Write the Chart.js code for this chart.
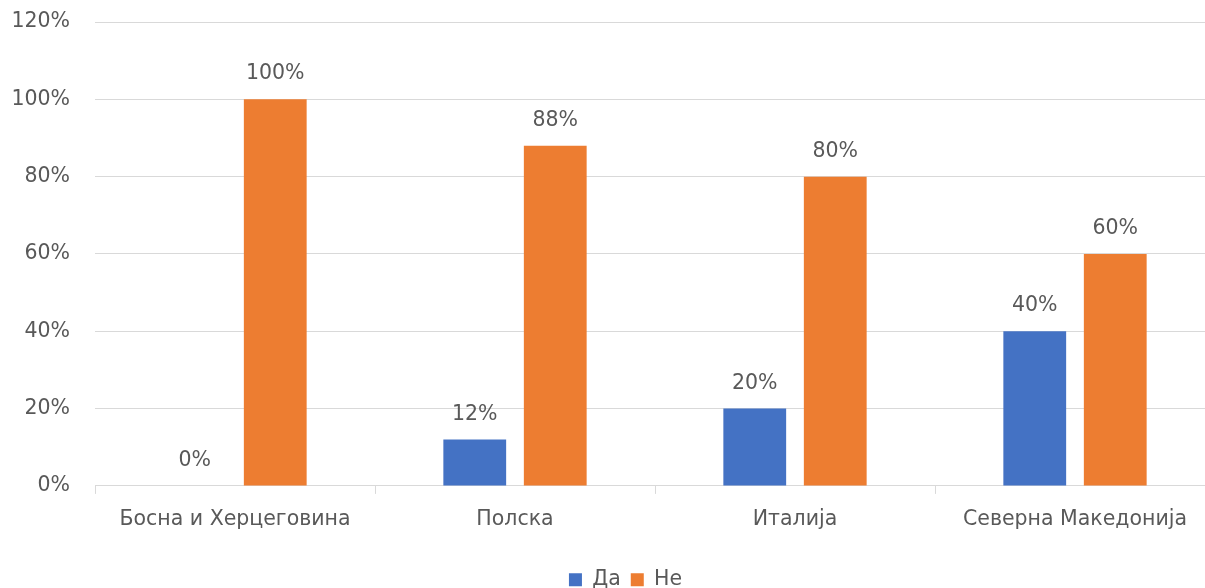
<!DOCTYPE html>
<html>
<head>
<meta charset="utf-8">
<script src="https://cdn.jsdelivr.net/npm/chart.js@4"></script>
<style>
    html, body { margin: 0; padding: 0; background: #fff; overflow: hidden; }
    #wrap { width: 1205px; height: 588px; overflow: hidden; position: relative; }
    #box { width: 1215px; height: 600px; position: absolute; left: 0; top: 0; }
</style>
</head>
<body>
<div id="wrap"><div id="box"><canvas id="myChart"></canvas></div></div>
<script>
const categories = ['Босна и Херцеговина', 'Полска', 'Италија', 'Северна Македонија'];
const daValues = [0, 12, 20, 40];
const neValues = [100, 88, 80, 60];
const seriesNames = ['Да', 'Не'];
const yTicks = [0, 20, 40, 60, 80, 100, 120];

const FONT = "'DejaVu Sans', 'Noto Sans', sans-serif";
const SIZE = 20.5;
const TEXT = '#595959';

document.addEventListener("DOMContentLoaded", function() {
    const ctx = document.getElementById('myChart').getContext('2d');

    // value labels above every bar
    const barLabels = {
        id: 'barLabels',
        afterDatasetsDraw(chart) {
            const c = chart.ctx;
            c.save();
            c.font = SIZE + 'px ' + FONT;
            c.fillStyle = TEXT;
            c.textAlign = 'center';
            c.textBaseline = 'alphabetic';
            chart.data.datasets.forEach(function(dataset, i) {
                chart.getDatasetMeta(i).data.forEach(function(bar, index) {
                    c.fillText(dataset.data[index] + '%', bar.x, bar.y - 20);
                });
            });
            c.restore();
        }
    };

    // legend sits a bit right of centre in the original
    const legendShift = {
        id: 'legendShift',
        afterLayout(chart) {
            chart.legend.left += 18;
            chart.legend.right += 18;
        }
    };

    new Chart(ctx, {
        type: 'bar',
        data: {
            labels: categories,
            datasets: [{
                label: seriesNames[0],
                data: daValues,
                backgroundColor: '#4472C4',
                barPercentage: 0.78,
                categoryPercentage: 0.575
            }, {
                label: seriesNames[1],
                data: neValues,
                backgroundColor: '#ED7D31',
                barPercentage: 0.78,
                categoryPercentage: 0.575
            }]
        },
        options: {
            responsive: true,
            maintainAspectRatio: false,
            animation: false,
            layout: { padding: { top: 22, left: 0, right: 0, bottom: 0 } },
            scales: {
                x: {
                    afterFit(scale) { scale.height += 15; },
                    grid: { drawOnChartArea: false, offset: true, tickLength: 8, color: '#d9d9d9' },
                    border: { color: '#d9d9d9' },
                    ticks: { color: TEXT, font: { family: FONT, size: SIZE }, padding: 13, maxRotation: 0 }
                },
                y: {
                    min: 0,
                    max: 120,
                    afterBuildTicks(scale) {
                        scale.ticks = yTicks.map(v => ({ value: v }));
                    },
                    afterFit(scale) {
                        scale.width = 95;
                        scale.paddingTop = 0;
                    },
                    grid: { color: '#d9d9d9', drawTicks: false },
                    border: { display: false },
                    ticks: {
                        color: TEXT,
                        font: { family: FONT, size: SIZE },
                        padding: 25,
                        callback: v => v + '%'
                    }
                }
            },
            plugins: {
                legend: {
                    position: 'bottom',
                    labels: {
                        color: TEXT,
                        font: { family: FONT, size: SIZE },
                        boxWidth: 13,
                        boxHeight: 13,
                        padding: 10
                    }
                },
                tooltip: { enabled: false }
            }
        },
        plugins: [barLabels, legendShift]
    });
});
</script>
</body>
</html>
